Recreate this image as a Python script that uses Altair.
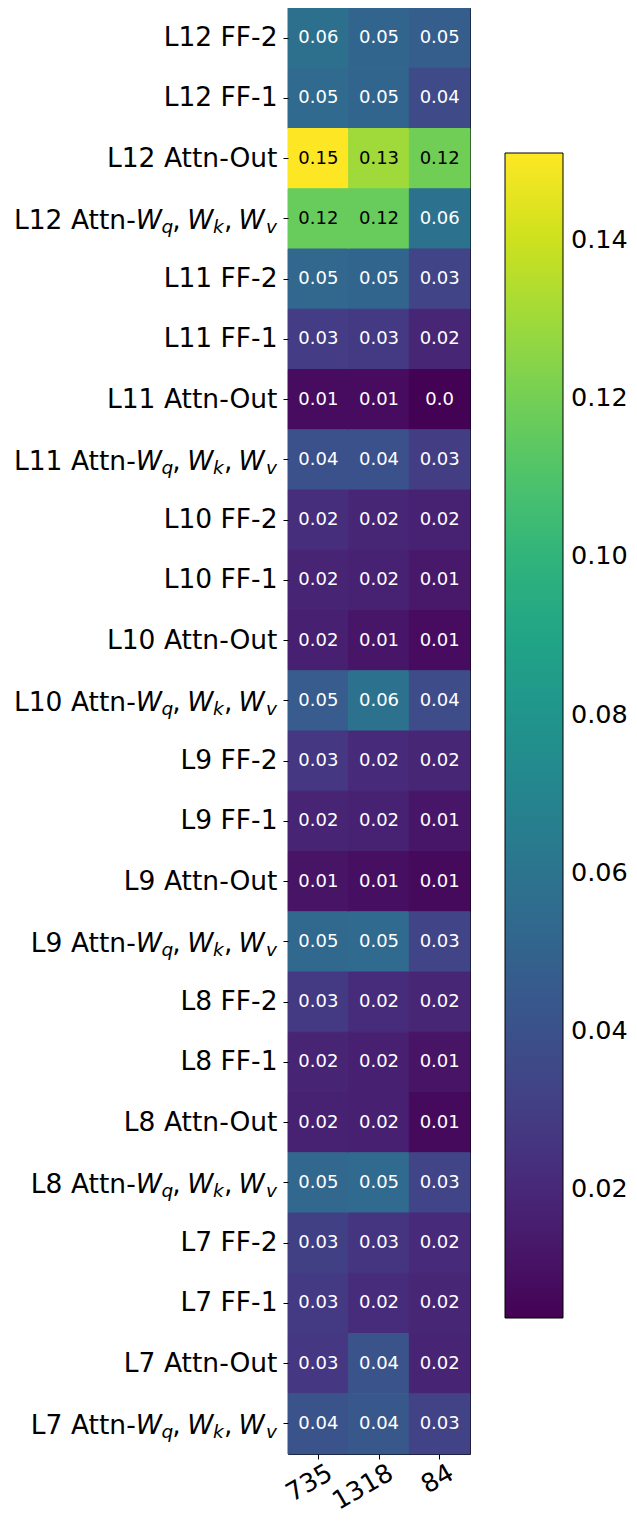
import altair as alt
import pandas as pd

rows = [
    "L12 FF-2", "L12 FF-1", "L12 Attn-Out", "L12 Attn-Wq,Wk,Wv",
    "L11 FF-2", "L11 FF-1", "L11 Attn-Out", "L11 Attn-Wq,Wk,Wv",
    "L10 FF-2", "L10 FF-1", "L10 Attn-Out", "L10 Attn-Wq,Wk,Wv",
    "L9 FF-2", "L9 FF-1", "L9 Attn-Out", "L9 Attn-Wq,Wk,Wv",
    "L8 FF-2", "L8 FF-1", "L8 Attn-Out", "L8 Attn-Wq,Wk,Wv",
    "L7 FF-2", "L7 FF-1", "L7 Attn-Out", "L7 Attn-Wq,Wk,Wv",
]
columns = ["735", "1318", "84"]

vals_735 = [0.058, 0.054, 0.151, 0.117,
            0.052, 0.029, 0.008, 0.040,
            0.023, 0.018, 0.016, 0.046,
            0.027, 0.018, 0.011, 0.053,
            0.028, 0.018, 0.017, 0.052,
            0.031, 0.028, 0.027, 0.041]
vals_1318 = [0.051, 0.051, 0.130, 0.117,
             0.051, 0.028, 0.008, 0.040,
             0.019, 0.017, 0.012, 0.059,
             0.021, 0.017, 0.009, 0.054,
             0.022, 0.016, 0.016, 0.054,
             0.026, 0.022, 0.041, 0.044]
vals_84 = [0.047, 0.036, 0.119, 0.059,
           0.033, 0.019, 0.004, 0.030,
           0.017, 0.013, 0.008, 0.037,
           0.019, 0.012, 0.007, 0.033,
           0.019, 0.011, 0.007, 0.033,
           0.021, 0.019, 0.018, 0.032]

cbar_ticks = [0.02, 0.04, 0.06, 0.08, 0.10, 0.12, 0.14]
cbar_domain = [0.0037, 0.151]

recs = []
for col, vals in zip(columns, [vals_735, vals_1318, vals_84]):
    for r, v in zip(rows, vals):
        recs.append({"row": r, "col": col, "value": v, "label": str(round(v, 2))})
df = pd.DataFrame(recs)

math_rows = [r for r in rows if "Attn-W" in r]
lab_df = pd.DataFrame({"row": math_rows, "prefix": [r.split("Attn-")[0] + "Attn-" for r in math_rows]})

FS = 26.5
SUB = 18.5
FONT = "DejaVu Sans"

y_enc = alt.Y("row:N", sort=rows, title=None,
              scale=alt.Scale(paddingInner=0, paddingOuter=0),
              axis=alt.Axis(labelExpr="indexof(datum.value, 'Attn-W') >= 0 ? '' : datum.value",
                            labelFontSize=FS, labelColor="black", labelLimit=500,
                            tickSize=5, tickColor="black", labelPadding=6, domain=False))
x_enc = alt.X("col:N", sort=columns, title=None,
              scale=alt.Scale(paddingInner=0, paddingOuter=0),
              axis=alt.Axis(labelAngle=-30, labelAlign="right", labelBaseline="top",
                            labelFontSize=25.5, labelColor="black", labelOffset=6,
                            tickSize=5, tickColor="black", labelPadding=1, domain=False))

# same-colour outline on each cell hides antialiasing seams between cells
heat = alt.Chart(df).mark_rect(
    stroke=alt.ExprRef("scale('color', datum.value)"), strokeWidth=1
).encode(
    x=x_enc, y=y_enc,
    color=alt.Color("value:Q",
                    scale=alt.Scale(scheme="viridis", domain=cbar_domain),
                    legend=alt.Legend(orient="none", legendX=217, legendY=145,
                                      direction="vertical", title=None,
                                      gradientLength=1165, gradientThickness=58,
                                      values=cbar_ticks, format=".2f",
                                      labelFontSize=25.5, labelOffset=8, labelColor="black",
                                      gradientStrokeColor="black", gradientStrokeWidth=1,
                                      labelOverlap=False, padding=0)),
)

cell_text = alt.Chart(df).mark_text(fontSize=18, baseline="middle", align="center").encode(
    x=alt.X("col:N", sort=columns),
    y=alt.Y("row:N", sort=rows),
    text="label:N",
    color=alt.condition(alt.datum.value > 0.09, alt.value("black"), alt.value("white")),
)

base_lab = alt.Chart(lab_df)
label_layers = [
    base_lab.mark_text(align="right", baseline="alphabetic", dx=-141.3, dy=10.6,
                       fontSize=FS, color="black").encode(
        x=alt.value(-11), y=alt.Y("row:N", sort=rows), text="prefix:N")
]
# (text, dx, size, italic, subscript)
pieces = [
    ("W", -115.1, FS, True, False),
    ("q", -103.8, SUB, True, True),
    (",", -96.3, FS, False, False),
    ("W", -63.5, FS, True, False),
    ("k", -53.2, SUB, True, True),
    (",", -44.6, FS, False, False),
    ("W", -12.4, FS, True, False),
    ("v", 0.0, SUB, True, True),
]
for txt, dx, size, ital, sub in pieces:
    label_layers.append(
        base_lab.mark_text(align="right", baseline="alphabetic", dx=dx,
                           dy=14.5 if sub else 10.6, fontSize=size,
                           fontStyle="italic" if ital else "normal",
                           color="black", text=txt).encode(
            x=alt.value(-11), y=alt.Y("row:N", sort=rows))
    )

chart = alt.layer(heat, cell_text, *label_layers).properties(
    width=182, height=1446,
    autosize=alt.AutoSizeParams(type="none"),
    padding={"left": 280, "top": 0, "right": 159, "bottom": 62},
).configure(font=FONT).configure_view(stroke="black", strokeWidth=1)

chart.save("out.html", embed_options={"renderer": "svg", "actions": False})
